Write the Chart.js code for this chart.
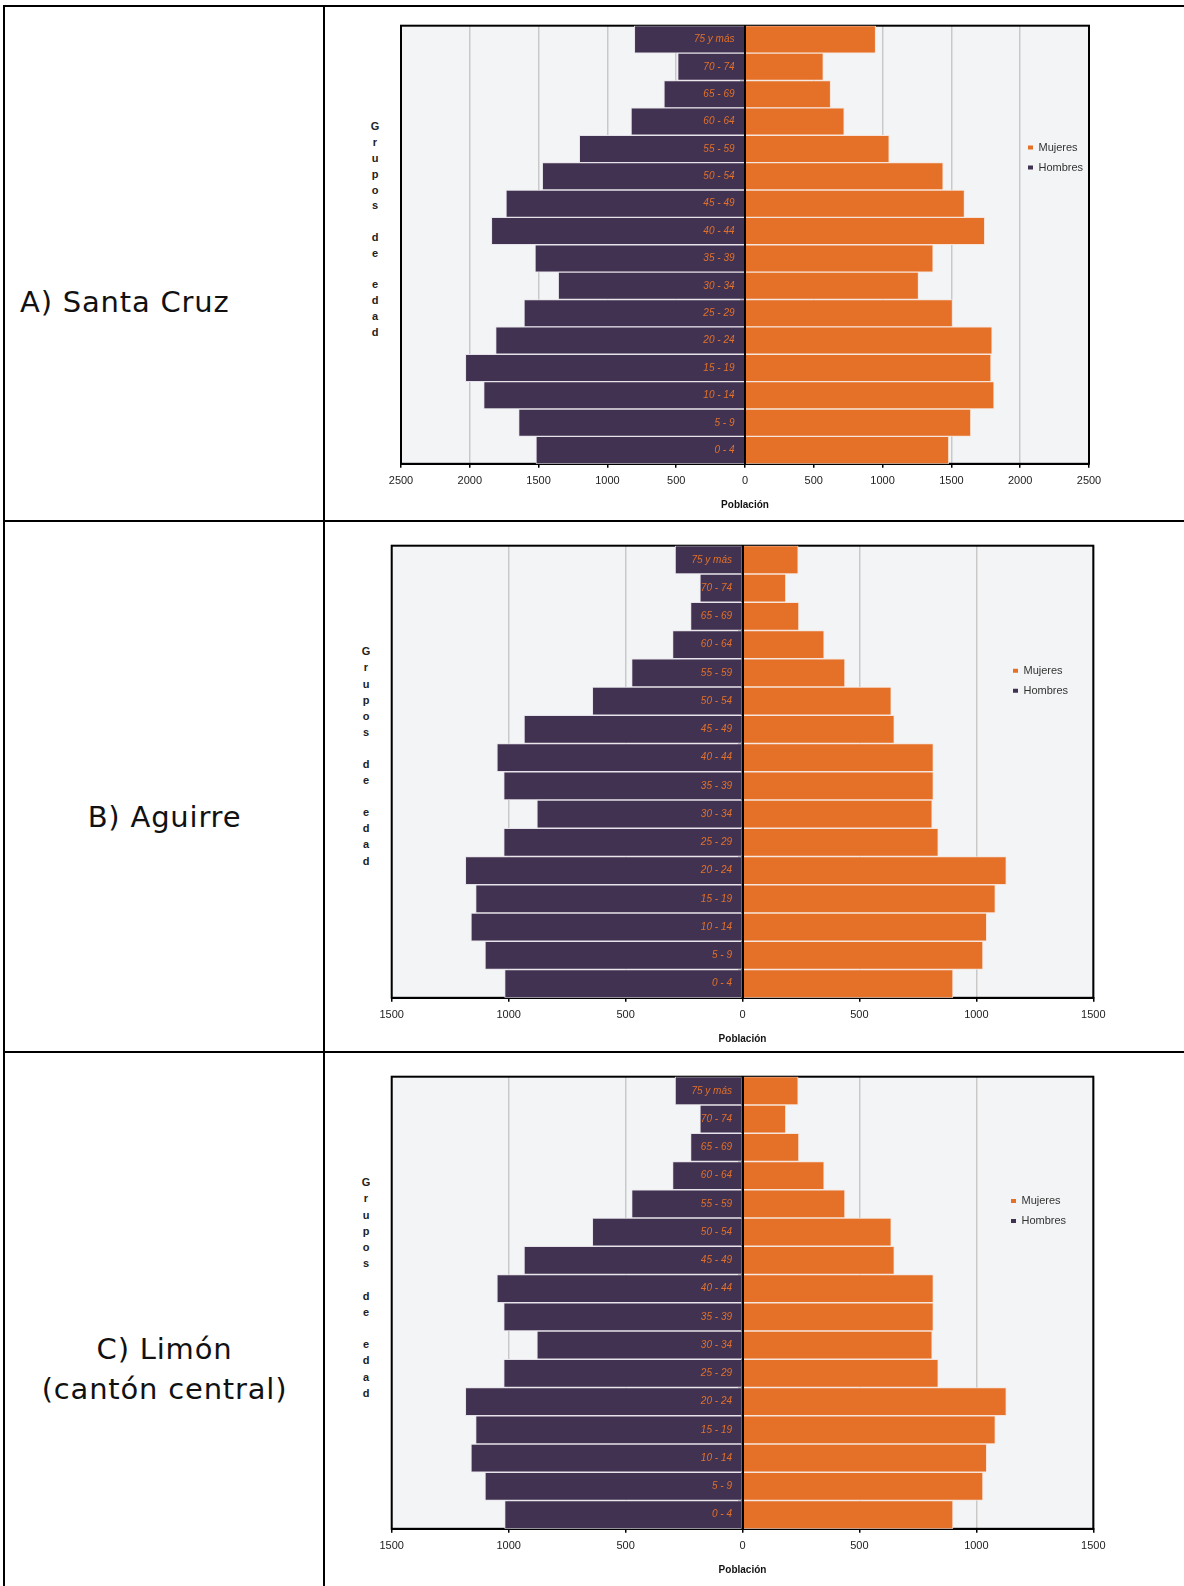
<!DOCTYPE html>
<html>
<head>
<meta charset="utf-8">
<script src="https://cdn.jsdelivr.net/npm/chart.js@4.4.1/dist/chart.umd.min.js"></script>
<style>
html,body{margin:0;padding:0;background:#fff;}
body{position:relative;width:1184px;height:1586px;overflow:hidden;}
.ln{position:absolute;background:#000;}
.lbl{position:absolute;font-family:"DejaVu Sans",sans-serif;font-size:29px;color:#111;letter-spacing:0.8px;white-space:nowrap;line-height:29px;}
.ctr{left:5px;width:319px;text-align:center;}
.vt{position:absolute;width:20px;text-align:center;font-family:"Liberation Sans",Arial,sans-serif;font-weight:bold;font-size:11px;color:#222;}
.cw{position:absolute;left:330px;}
</style>
</head>
<body>
<!-- table lines -->
<div class="ln" style="left:3px;top:4.7px;width:1181px;height:2px"></div>
<div class="ln" style="left:3px;top:4.7px;width:2px;height:1582px"></div>
<div class="ln" style="left:323.3px;top:4.7px;width:2px;height:1582px"></div>
<div class="ln" style="left:3px;top:519.7px;width:1181px;height:2px"></div>
<div class="ln" style="left:3px;top:1050.9px;width:1181px;height:2px"></div>

<div class="lbl" style="left:20px;top:288px">A) Santa Cruz</div>
<div class="lbl ctr" style="top:803px">B) Aguirre</div>
<div class="lbl ctr" style="top:1335px">C) Limón</div>
<div class="lbl ctr" style="top:1375px">(cantón central)</div>

<div class="vt" id="vtA"></div>
<div class="vt" id="vtB"></div>
<div class="vt" id="vtC"></div>

<div class="cw" style="top:5px"><canvas id="chartA" width="854" height="508"></canvas></div>
<div class="cw" style="top:527px"><canvas id="chartB" width="854" height="520"></canvas></div>
<div class="cw" style="top:1058px"><canvas id="chartC" width="854" height="520"></canvas></div>

<script>
// ---------- DATA ----------
const ageGroups = ['75 y más','70 - 74','65 - 69','60 - 64','55 - 59','50 - 54','45 - 49','40 - 44',
                   '35 - 39','30 - 34','25 - 29','20 - 24','15 - 19','10 - 14','5 - 9','0 - 4'];

const santaCruzMujeres = [949, 569, 622, 721, 1048, 1440, 1595, 1742, 1367, 1261, 1508, 1796, 1788, 1810, 1641, 1481];
const santaCruzHombres = [804, 489, 589, 828, 1204, 1473, 1737, 1843, 1526, 1357, 1606, 1812, 2032, 1899, 1645, 1519];

const aguirreMujeres = [238, 185, 241, 349, 438, 636, 649, 816, 816, 811, 837, 1128, 1081, 1044, 1028, 900];
const aguirreHombres = [288, 182, 222, 299, 474, 642, 934, 1050, 1021, 879, 1021, 1185, 1141, 1161, 1101, 1017];

const limonMujeres = [238, 185, 241, 349, 438, 636, 649, 816, 816, 811, 837, 1128, 1081, 1044, 1028, 900];
const limonHombres = [288, 182, 222, 299, 474, 642, 934, 1050, 1021, 879, 1021, 1185, 1141, 1161, 1101, 1017];

const seriesNames = ['Mujeres', 'Hombres'];
const axisTitleX = 'Población';
const axisTitleY = 'Grupos de edad';
const santaCruzAxisMax = 2500;
const aguirreAxisMax = 1500;
const limonAxisMax = 1500;
const tickStep = 500;

// ---------- vertical stacked-letter axis titles ----------
function buildVertical(id, left, firstCenter, spacing) {
  const el = document.getElementById(id);
  el.style.left = (left - 10) + 'px';
  el.style.top = (firstCenter - spacing / 2) + 'px';
  for (const ch of axisTitleY) {
    const d = document.createElement('div');
    d.style.height = spacing + 'px';
    d.style.lineHeight = spacing + 'px';
    d.textContent = ch === ' ' ? '\u00a0' : ch;
    el.appendChild(d);
  }
}
buildVertical('vtA', 375, 127.3, 15.8);
buildVertical('vtB', 366, 651.4, 16.1);
buildVertical('vtC', 366, 1182.4, 16.2);

// ---------- plugins ----------
const plotFrame = {
  id: 'plotFrame',
  beforeDraw(chart) {
    const {ctx, chartArea: a} = chart;
    ctx.save();
    ctx.fillStyle = '#f3f4f6';
    ctx.fillRect(a.left, a.top, a.right - a.left, a.bottom - a.top);
    ctx.restore();
  },
  beforeDatasetsDraw(chart) {
    const {ctx, chartArea: a} = chart;
    ctx.save();
    ctx.strokeStyle = '#000';
    ctx.lineWidth = 2;
    ctx.strokeRect(a.left, a.top, a.right - a.left, a.bottom - a.top);
    ctx.restore();
  }
};

const legendPlacer = {
  id: 'legendPlacer',
  afterLayout(chart, args, opts) {
    const lg = chart.legend;
    if (!lg || opts.boxLeft === undefined) return;
    const pad = lg.options.labels.padding;
    const fs = lg.options.labels.font.size || 11;
    const h = lg.height;
    lg.left = opts.boxLeft - pad;
    lg.top = opts.firstCenter - fs / 2 - pad;
    lg.right = lg.left + lg.width;
    lg.bottom = lg.top + h;
  }
};

function pyramid(id, women, men, maxV, pad, legendPos) {
  new Chart(document.getElementById(id), {
    type: 'bar',
    data: {
      labels: ageGroups,
      datasets: [
        {label: seriesNames[0], data: women, backgroundColor: '#e57027', borderColor: '#f7e4da', borderWidth: 1,
         barPercentage: 1, categoryPercentage: 1},
        {label: seriesNames[1], data: men.map(v => -v), backgroundColor: '#423251', borderColor: '#e6e3ea', borderWidth: 1,
         barPercentage: 1, categoryPercentage: 1}
      ]
    },
    options: {
      indexAxis: 'y',
      responsive: false,
      animation: false,
      layout: {padding: pad},
      scales: {
        x: {
          type: 'linear', stacked: true, min: -maxV, max: maxV,
          ticks: {stepSize: tickStep, callback: v => Math.abs(v), font: {family: 'Liberation Sans', size: 11},
                  color: '#222', padding: 7, maxRotation: 0, autoSkip: false},
          grid: {color: '#c9c9c9', lineWidth: 1.5, tickColor: '#000', tickLength: 4, tickWidth: 1.5},
          border: {color: '#000', width: 2},
          title: {display: true, text: axisTitleX, font: {family: 'Liberation Sans', size: 10, weight: 'bold'},
                  color: '#111', padding: {top: 4, bottom: 2}}
        },
        y: {
          type: 'category', stacked: true, position: 'center',
          ticks: {font: {family: 'Liberation Sans', size: 10, style: 'italic'}, color: '#e0702a', padding: 6.5, z: 1, autoSkip: false},
          grid: {drawOnChartArea: false, tickLength: 4, color: '#000', lineWidth: 1.5},
          border: {color: '#000', width: 2, z: 1}
        }
      },
      plugins: {
        legend: {
          position: 'chartArea', align: 'start',
          labels: {
            boxWidth: 5, boxHeight: 4, padding: 9, color: '#333',
            font: {family: 'Liberation Sans', size: 11},
            generateLabels(chart) {
              const items = Chart.defaults.plugins.legend.labels.generateLabels(chart);
              items.forEach(it => { it.lineWidth = 0; it.strokeStyle = it.fillStyle; });
              return items;
            }
          }
        },
        tooltip: {enabled: false},
        legendPlacer: legendPos
      }
    },
    plugins: [plotFrame, legendPlacer]
  });
}

pyramid('chartA', santaCruzMujeres, santaCruzHombres, santaCruzAxisMax,
        {left: 71, right: 95, top: 20.7, bottom: 0}, {boxLeft: 698, firstCenter: 142.6});
pyramid('chartB', aguirreMujeres, aguirreHombres, aguirreAxisMax,
        {left: 61.7, right: 90.7, top: 18.7, bottom: 0}, {boxLeft: 683, firstCenter: 143.7});
pyramid('chartC', limonMujeres, limonHombres, limonAxisMax,
        {left: 61.7, right: 90.7, top: 18.7, bottom: 0}, {boxLeft: 681, firstCenter: 143});
</script>
</body>
</html>
